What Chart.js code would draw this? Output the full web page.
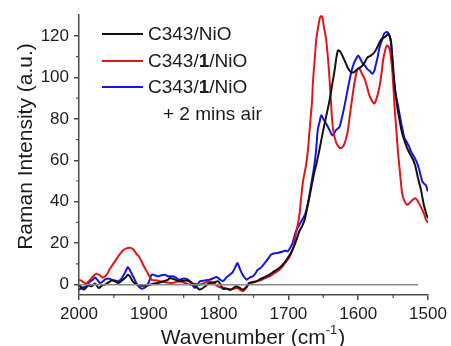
<!DOCTYPE html>
<html>
<head>
<meta charset="utf-8">
<script src="https://cdn.jsdelivr.net/npm/chart.js@4/dist/chart.umd.min.js"></script>
<style>
html,body{margin:0;padding:0;background:#fff;}
#wrap{width:451px;height:346px;position:relative;}
</style>
</head>
<body>
<div id="wrap"><canvas id="c" width="451" height="346"></canvas></div>
<script>
// ---- Data (wavenumber in cm^-1, Raman intensity in a.u.) ----
const xTicks = [2000, 1900, 1800, 1700, 1600, 1500];
const yTicks = [0, 20, 40, 60, 80, 100, 120];
const xMinorTicks = [1950, 1850, 1750, 1650, 1550];
const yMinorTicks = [10, 30, 50, 70, 90, 110];
const seriesNames = ["C343/NiO", "C343/1/NiO", "C343/1/NiO + 2 mins air"];

const niO_x = [2000,1993,1987,1982,1977,1972,1967,1963,1958,1953,1948,1944,1940,1937,1933,1930,1927,1923,1917,1910,1904,1898,1892,1887,1880,1872,1870,1863,1856,1848,1841,1834,1827,1820,1813,1807,1801,1797,1794,1788,1782,1775,1770,1765,1760,1756,1751,1746,1741,1737,1732,1727,1720,1713,1707,1701,1696,1691,1687,1684,1680,1677,1673,1670,1666,1663,1660,1655,1651,1646,1641,1637,1634,1631,1629,1626,1622,1618,1614,1610,1606,1603,1599,1596,1591,1587,1582,1577,1572,1568,1564,1560,1557,1555,1553,1550,1548,1546,1544,1540,1537,1534,1530,1525,1521,1518,1514,1510,1506,1502,1500];
const niO_y = [0,-2.4,-0.5,-0.8,0.5,-1.6,-0.5,0,1,2,1.5,0.8,1.5,2.4,3.5,4.8,4,1.6,0,-0.5,-0.5,0,0.5,0.8,1.5,2.4,3.2,2.5,1.6,2,1.6,-0.5,-2.4,-1,0.8,1,1.6,0,-2,-2,-2.4,-0.8,-1.5,-2.4,-1,0.8,1,1.6,2.5,3.2,4,4.8,6.5,8,10,12.8,15.5,19.2,23,26,28.5,31,37,42,49,54,58,66,73,81,89,97,103,110,113,112.5,110,107,104,102.5,102.5,103.4,104.5,105,107,109.5,110.5,112,115,117.8,119,120,121,120,117,105,97,91,85.7,78,73,69.7,66,62.5,60,57,51,45.7,38.5,33.7,32];

const dye1_x = [2000,1995,1990,1985,1980,1975,1970,1966,1960,1955,1949,1943,1937,1932,1927,1922,1918,1913,1908,1903,1896,1889,1882,1875,1868,1862,1856,1848,1841,1834,1827,1820,1813,1806,1799,1792,1785,1779,1773,1769,1765,1760,1756,1748,1741,1734,1727,1720,1713,1708,1703,1699,1696,1692,1689,1686,1684,1682,1679,1675,1672,1670,1668,1666,1665,1662,1660,1657,1655,1653,1651,1649,1646,1643,1641,1639,1637,1635,1632,1628,1625,1621,1618,1615,1613,1609,1605,1601,1598,1595,1591,1587,1584,1580,1577,1574,1570,1567,1564,1561,1559,1556,1554,1551,1548,1545,1543,1541,1539,1537,1534,1530,1526,1522,1518,1515,1513,1508,1505,1503,1500];
const dye1_y = [2.4,1.5,0.5,2,4,5.3,4.5,3.4,5,8,11,14,16.5,17.5,17.8,17,15,13,9.5,6.4,2.4,2,1.5,1,0.8,1.2,1.6,0.8,0,0.5,0,0.8,1.6,0.5,-1.2,-1.5,-2.4,-2,-1.6,-2.5,-3.2,-1.5,0.8,1.5,2,3,4,5.5,7.2,9,11.2,13,15.2,19,24.8,30,34,41,50,57,65,73,81,89,97,110,118.6,125,128.5,129.8,128.5,124,118.6,108,99,88,78,73,69,66.5,65.8,67,69.7,74,79,89,98,104,104.3,102,99.4,95,91.3,88.5,87.4,89.5,94.6,101,109,113.5,115.4,114.5,112,102.5,86.5,73,64,57,50,44,40.5,38.5,39.5,40.9,41.7,40.5,39.3,36,33.5,31.3,30];

const air_x = [2000,1995,1990,1987,1984,1980,1977,1973,1970,1966,1963,1958,1953,1948,1944,1940,1937,1933,1930,1927,1925,1921,1918,1914,1910,1906,1903,1899,1896,1891,1887,1882,1877,1872,1866,1862,1856,1850,1844,1839,1834,1830,1827,1820,1813,1808,1803,1798,1794,1790,1787,1783,1780,1776,1773,1770,1768,1764,1760,1755,1751,1747,1744,1740,1736,1732,1728,1725,1721,1718,1713,1708,1704,1701,1697,1694,1689,1684,1680,1676,1672,1669,1666,1663,1660,1658,1655,1653,1650,1646,1641,1637,1632,1627,1622,1618,1614,1610,1606,1603,1600,1597,1594,1590,1587,1583,1580,1577,1575,1572,1570,1566,1563,1560,1558,1555,1553,1551,1550,1548,1546,1543,1539,1536,1534,1530,1527,1524,1520,1516,1513,1510,1508,1505,1503,1501,1500];
const air_y = [-2.4,-1.5,-0.8,0.5,1.5,2.5,3.4,2,0.8,1.5,2.4,3,2.4,2,1.6,2.5,4,6.5,8.5,7,5.6,3,0.8,-1,-2,-1.5,-0.8,2,4.8,4.5,4,4.5,4.8,4,4,3.5,2.4,3,2.4,0.5,-1.6,0,1.6,2,2.4,3,3.7,2.5,1.6,3,4,5,5.9,8.5,10.4,8,6.4,4,2.4,3.5,4,5.5,7.2,8,9.5,11.2,13,14.4,15,15.2,15.5,16,16.5,16,18,20,26,29,31.4,34,39.4,45,51,57,66,74.5,79,81.7,80,77.7,74.5,72,74.5,76,82.5,89,96,102.5,107,109,110.6,109,107,105.5,104,103,101.8,103,105.8,110,113.8,118,121,121.8,121.8,120,117,109,102.5,96,91.3,86.5,79,74,71,68.5,66.5,64,61.7,59,56,52,49.7,48.5,48,45.7,45];

const baseline_x = [2000, 1514];
const baseline_y = [0, 0];

// ---- helpers ----
function pts(xs, ys){ return xs.map((x,i)=>({x:x, y:ys[i]})); }

const TEXT = '#1c1c1c';
const AXIS = '#4a4a4a';
const FONT = '"Liberation Sans", Arial, Helvetica, sans-serif';

const extras = {
  id: 'extras',
  afterDraw(chart){
    const ctx = chart.ctx;
    const xs = chart.scales.x, ys = chart.scales.y;
    const ca = chart.chartArea;
    ctx.save();
    // minor ticks
    ctx.strokeStyle = AXIS; ctx.lineWidth = 1.2;
    ctx.beginPath();
    xMinorTicks.forEach(v=>{ const p = xs.getPixelForValue(v); ctx.moveTo(p, ca.bottom); ctx.lineTo(p, ca.bottom+3); });
    yMinorTicks.forEach(v=>{ const p = ys.getPixelForValue(v); ctx.moveTo(ca.left, p); ctx.lineTo(ca.left-3, p); });
    ctx.stroke();

    // legend
    const rows = [
      {color:'#111111', parts:[['C343/',false],['NiO',false]]},
      {color:'#e0161b', parts:[['C343/',false],['1',true],['/NiO',false]]},
      {color:'#1414e6', parts:[['C343/',false],['1',true],['/NiO',false]]}
    ];
    const ly = [34, 61, 87];
    ctx.textBaseline = 'middle';
    ctx.textAlign = 'left';
    rows.forEach((r,i)=>{
      ctx.strokeStyle = r.color; ctx.lineWidth = 2;
      ctx.beginPath(); ctx.moveTo(102, ly[i]); ctx.lineTo(143, ly[i]); ctx.stroke();
      let x = 148;
      ctx.fillStyle = TEXT;
      r.parts.forEach(([t,b])=>{
        ctx.font = (b?'bold ':'') + '19px ' + FONT;
        ctx.fillText(t, x, ly[i]+1);
        x += ctx.measureText(t).width;
      });
    });
    ctx.font = '19px ' + FONT;
    ctx.fillText('+ 2 mins air', 163, 115);

    // x title with superscript
    const main = 'Wavenumber (cm', sup = '-1', end = ')';
    ctx.textBaseline = 'alphabetic';
    ctx.font = '21px ' + FONT; const w1 = ctx.measureText(main).width, w3 = ctx.measureText(end).width;
    ctx.font = '13px ' + FONT; const w2 = ctx.measureText(sup).width;
    let tx = 253 - (w1+w2+w3+1)/2;
    ctx.font = '21px ' + FONT; ctx.fillText(main, tx, 344); tx += w1;
    ctx.font = '13px ' + FONT; ctx.fillText(sup, tx, 334); tx += w2 + 1;
    ctx.font = '21px ' + FONT; ctx.fillText(end, tx, 344);

    // y title
    ctx.translate(32, 146.5);
    ctx.rotate(-Math.PI/2);
    ctx.textAlign = 'center';
    ctx.font = '21px ' + FONT;
    ctx.fillText('Raman Intensity (a.u.)', 0, 0);
    ctx.restore();
  }
};

new Chart(document.getElementById('c'), {
  type: 'line',
  data: {
    datasets: [
      {label:'baseline', data: pts(baseline_x, baseline_y), borderColor:'#8a8a8a', borderWidth:1.5, pointRadius:0, tension:0},
      {label: seriesNames[0], data: pts(niO_x, niO_y), borderColor:'#111111', borderWidth:2, pointRadius:0, tension:0.25},
      {label: seriesNames[1], data: pts(dye1_x, dye1_y), borderColor:'#e0161b', borderWidth:2, pointRadius:0, tension:0.25},
      {label: seriesNames[2], data: pts(air_x, air_y), borderColor:'#1414e6', borderWidth:2, pointRadius:0, tension:0.25}
    ]
  },
  options: {
    responsive: false,
    animation: false,
    layout: {padding: {left: 0, right: 23, top: 13, bottom: 0}},
    plugins: {legend: {display:false}, tooltip: {enabled:false}},
    scales: {
      x: {
        type: 'linear', min: 1500, max: 2000, reverse: true,
        afterBuildTicks: s => { s.ticks = xTicks.map(v=>({value:v})); },
        afterFit: s => { s.height = 51; },
        grid: {drawOnChartArea:false, drawTicks:true, tickLength:5, color:AXIS, lineWidth:1.5},
        border: {display:true, color:AXIS, width:1.5},
        ticks: {color:TEXT, font:{family:FONT, size:17}, padding:4, maxRotation:0, autoSkip:false, callback: v => String(v)}
      },
      y: {
        type: 'linear', min: -5, max: 130,
        afterBuildTicks: s => { s.ticks = yTicks.map(v=>({value:v})); },
        afterFit: s => { s.width = 79; },
        grid: {drawOnChartArea:false, drawTicks:true, tickLength:5, color:AXIS, lineWidth:1.5},
        border: {display:true, color:AXIS, width:1.5},
        ticks: {color:TEXT, font:{family:FONT, size:17}, padding:5, autoSkip:false, callback: v => String(v)}
      }
    }
  },
  plugins: [extras]
});
</script>
</body>
</html>
